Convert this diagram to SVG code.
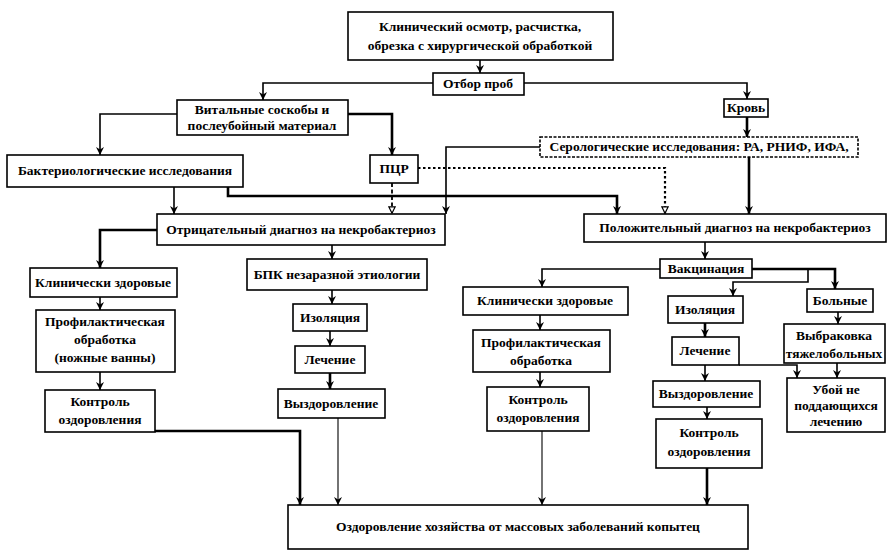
<svg xmlns="http://www.w3.org/2000/svg" width="888" height="552" viewBox="0 0 888 552">
<style>
rect{fill:#fff;stroke:#000;stroke-width:1.6}
text{font-family:"Liberation Serif","Times New Roman",serif;font-weight:bold;font-size:13.5px;text-anchor:middle;fill:#000}
.c path{fill:none;stroke:#000;stroke-width:1.6}
.c .t{stroke-width:2.6}
.c .n{stroke-width:1.1}
.c .d{stroke-dasharray:4 2.5;stroke-width:1.8}
.c .o{stroke-dasharray:2.5 2.5;stroke-width:2.2}
.ser{stroke-dasharray:3 1.5}
</style>
<defs>
<marker id="a" viewBox="0 0 10 10" refX="10" refY="5" markerWidth="8" markerHeight="8" markerUnits="userSpaceOnUse" orient="auto"><path d="M0,0 L10,5 L0,10 L3,5 z" fill="#000"/></marker>
<marker id="h" viewBox="0 0 10 10" refX="10" refY="5" markerWidth="8" markerHeight="8" markerUnits="userSpaceOnUse" orient="auto"><path d="M1,1 L9,5 L1,9 z" fill="#fff" stroke="#000" stroke-width="1.5"/></marker>
</defs>
<rect x="0" y="0" width="888" height="552" style="fill:#fff;stroke:none"/>
<g class="c" id="connectors">
<path d="M480,60 V73" marker-end="url(#a)"/>
<path d="M433,83 H263 V100" marker-end="url(#a)"/>
<path d="M524,83 H747 V99" marker-end="url(#a)"/>
<path d="M177,114 H100 V155" marker-end="url(#a)"/>
<path class="t" d="M348,114 H392 V155" marker-end="url(#a)"/>
<path class="t" d="M747,117 V137" marker-end="url(#a)"/>
<path d="M174,187 V214" marker-end="url(#a)"/>
<path class="t" d="M228,187 V196 H617 V214" marker-end="url(#a)"/>
<path d="M540,147 H446 V214" marker-end="url(#a)"/>
<path class="d" d="M392,183 V214" marker-end="url(#h)"/>
<path class="o" d="M418,168 H665 V214" marker-end="url(#h)"/>
<path class="t" d="M749,157 V214" marker-end="url(#a)"/>
<path class="t" d="M157,230 H100 V268" marker-end="url(#a)"/>
<path d="M100,297 V310" marker-end="url(#a)"/>
<path d="M100,372 V390" marker-end="url(#a)"/>
<path class="t" d="M155,431 H300 V505" marker-end="url(#a)"/>
<path d="M332,245 V259" marker-end="url(#a)"/>
<path d="M332,290 V304" marker-end="url(#a)"/>
<path d="M330,331 V346" marker-end="url(#a)"/>
<path class="t" d="M330,373 V389" marker-end="url(#a)"/>
<path class="n" d="M338,418 V505" marker-end="url(#a)"/>
<path d="M705,242 V259" marker-end="url(#a)"/>
<path d="M660,269 H542 V287" marker-end="url(#a)"/>
<path d="M540,315 V330" marker-end="url(#a)"/>
<path d="M540,372 V387" marker-end="url(#a)"/>
<path class="n" d="M542,431 V505" marker-end="url(#a)"/>
<path class="t" d="M752,269 H835 V289" marker-end="url(#a)"/>
<path d="M808,269 V282 H733 V296" marker-end="url(#a)"/>
<path class="t" d="M705,323 V337" marker-end="url(#a)"/>
<path d="M739,365 H797 V378" marker-end="url(#a)"/>
<path d="M705,365 V381" marker-end="url(#a)"/>
<path d="M707,407 V419" marker-end="url(#a)"/>
<path class="t" d="M707,468 V505" marker-end="url(#a)"/>
<path d="M838,312 V324" marker-end="url(#a)"/>
<path d="M837,363 V378" marker-end="url(#a)"/>
</g>
<g id="n1"><rect x="348" y="12" width="265" height="48"/><text x="480" y="31">Клинический осмотр, расчистка,</text><text x="480" y="50">обрезка с хирургической обработкой</text></g>
<g id="n2"><rect x="433" y="73" width="91" height="22"/><text x="478" y="88">Отбор проб</text></g>
<g id="n3"><rect x="177" y="100" width="171" height="35"/><text x="262" y="114">Витальные соскобы и</text><text x="262" y="130">послеубойный материал</text></g>
<g id="n4"><rect x="724" y="99" width="44" height="18"/><text x="746" y="112">Кровь</text></g>
<g id="n5"><rect x="7" y="155" width="236" height="32"/><text x="125" y="175">Бактериологические исследования</text></g>
<g id="n6"><rect x="370" y="155" width="48" height="28"/><text x="394" y="173">ПЦР</text></g>
<g id="n7"><rect class="ser" x="540" y="137" width="318" height="20"/><text x="699" y="151">Серологические исследования: РА, РНИФ, ИФА,</text></g>
<g id="n8"><rect x="157" y="214" width="288" height="31"/><text x="301" y="234">Отрицательный диагноз на некробактериоз</text></g>
<g id="n9"><rect x="584" y="214" width="302" height="28"/><text x="735" y="232">Положительный диагноз на некробактериоз</text></g>
<g id="n10"><rect x="30" y="268" width="147" height="29"/><text x="103" y="287">Клинически здоровые</text></g>
<g id="n11"><rect x="36" y="310" width="139" height="62"/><text x="105" y="326">Профилактическая</text><text x="105" y="344">обработка</text><text x="105" y="362">(ножные ванны)</text></g>
<g id="n12"><rect x="45" y="390" width="110" height="42"/><text x="100" y="406">Контроль</text><text x="100" y="424">оздоровления</text></g>
<g id="n13"><rect x="247" y="259" width="180" height="31"/><text x="337" y="279">БПК незаразной этиологии</text></g>
<g id="n14"><rect x="293" y="304" width="74" height="27"/><text x="330" y="322">Изоляция</text></g>
<g id="n15"><rect x="295" y="346" width="70" height="27"/><text x="330" y="364">Лечение</text></g>
<g id="n16"><rect x="278" y="389" width="107" height="29"/><text x="331" y="408">Выздоровление</text></g>
<g id="n17"><rect x="660" y="259" width="92" height="19"/><text x="706" y="273">Вакцинация</text></g>
<g id="n18"><rect x="463" y="287" width="165" height="28"/><text x="545" y="305">Клинически здоровые</text></g>
<g id="n19"><rect x="473" y="330" width="137" height="42"/><text x="541" y="347">Профилактическая</text><text x="541" y="365">обработка</text></g>
<g id="n20"><rect x="487" y="387" width="102" height="44"/><text x="538" y="404">Контроль</text><text x="538" y="422">оздоровления</text></g>
<g id="n21"><rect x="668" y="296" width="75" height="27"/><text x="705" y="314">Изоляция</text></g>
<g id="n22"><rect x="672" y="337" width="67" height="28"/><text x="705" y="355">Лечение</text></g>
<g id="n23"><rect x="653" y="381" width="107" height="26"/><text x="706" y="398">Выздоровление</text></g>
<g id="n24"><rect x="656" y="419" width="106" height="49"/><text x="709" y="437">Контроль</text><text x="709" y="456">оздоровления</text></g>
<g id="n25"><rect x="807" y="289" width="66" height="23"/><text x="840" y="305">Больные</text></g>
<g id="n26"><rect x="784" y="324" width="101" height="39"/><text x="834" y="340">Выбраковка</text><text x="834" y="358">тяжелобольных</text></g>
<g id="n27"><rect x="787" y="378" width="98" height="54"/><text x="836" y="394">Убой не</text><text x="836" y="410">поддающихся</text><text x="836" y="426">лечению</text></g>
<g id="n28"><rect x="288" y="505" width="460" height="44"/><text x="518" y="531">Оздоровление хозяйства от массовых заболеваний копытец</text></g>
</svg>
